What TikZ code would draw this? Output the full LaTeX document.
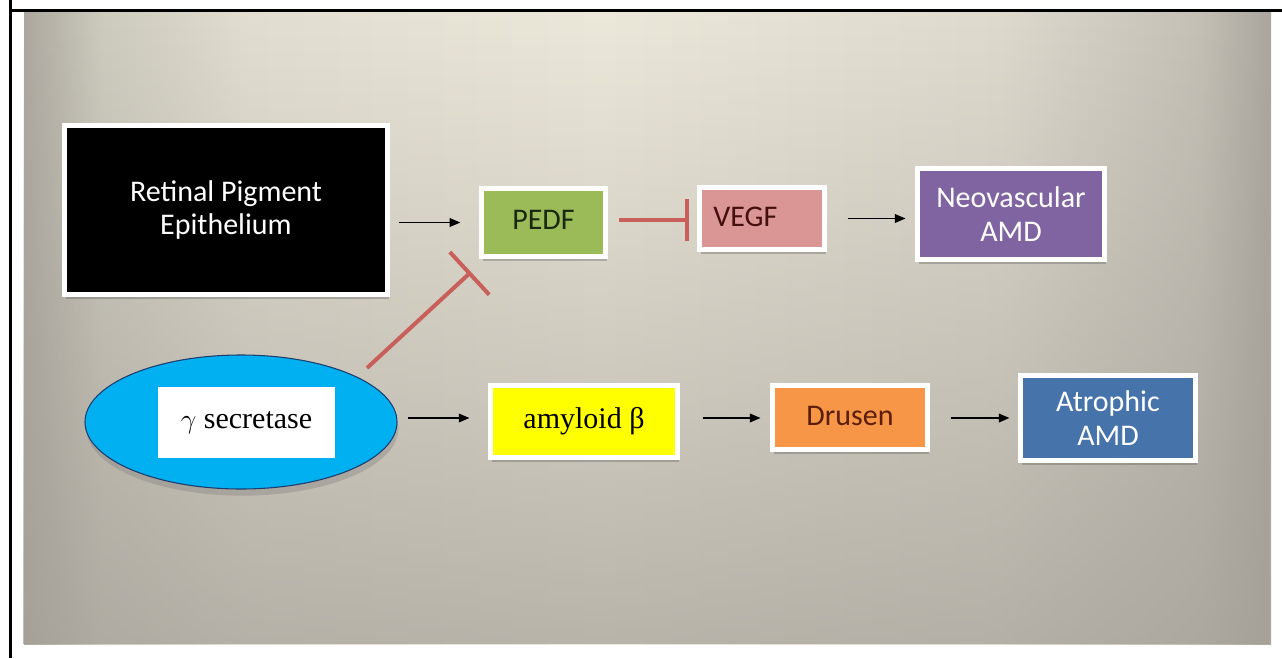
\documentclass[tikz,border=0pt]{standalone}
\usepackage{fontspec}
\setmainfont{Liberation Serif}
\newfontfamily\calibri{Carlito}
\usetikzlibrary{arrows.meta,shapes.geometric,shadows,fadings}

% slide background tones, left to right
\definecolor{bg0}{RGB}{172,168,159}
\definecolor{bg1}{RGB}{205,202,190}
\definecolor{bg2}{RGB}{226,222,209}
\definecolor{bg3}{RGB}{236,232,218}
\definecolor{bg4}{RGB}{222,218,206}
\definecolor{bg5}{RGB}{196,192,182}
\definecolor{bg6}{RGB}{170,166,157}
\definecolor{bgDark}{RGB}{163,158,150}
% box fills and text colours
\definecolor{pedfG}{RGB}{155,187,89}
\definecolor{pedfT}{RGB}{25,40,15}
\definecolor{vegfP}{RGB}{217,150,148}
\definecolor{vegfT}{RGB}{70,15,15}
\definecolor{neoP}{RGB}{128,100,162}
\definecolor{amyY}{RGB}{255,255,0}
\definecolor{druO}{RGB}{247,150,70}
\definecolor{druT}{RGB}{90,30,10}
\definecolor{atrB}{RGB}{70,115,170}
\definecolor{ellC}{RGB}{0,176,240}
\definecolor{ellL}{RGB}{30,60,110}
\definecolor{inhR}{RGB}{200,95,90}

\tikzfading[name=slidefade, top color=transparent!100,
  middle color=transparent!75, bottom color=transparent!0]

\tikzset{
  box/.style={rectangle, draw=white, line width=3.75pt, inner sep=0pt,
    align=center, font=\calibri\fontsize{22.5}{25}\selectfont,
    drop shadow={shadow xshift=1.2pt, shadow yshift=-3.2pt,
      opacity=0.3, fill=black!70}},
  serifbox/.style={box, font=\fontsize{22.5}{26}\selectfont},
  arr/.style={draw=black, line width=1.1pt,
    -{Triangle[length=8pt,width=6.5pt]}},
  inh/.style={draw=inhR, line width=3pt},
  bgband/.style={draw=none},
}

\begin{document}
\begin{tikzpicture}[x=0.75pt, y=-0.75pt]
\useasboundingbox (0,0) rectangle (1282,658);

% slide background: horizontal tone bands
\shade[bgband, left color=bg0, right color=bg1] (24,11) rectangle (100.5,644);
\shade[bgband, left color=bg1, right color=bg2] (100,11) rectangle (250.5,644);
\shade[bgband, left color=bg2, right color=bg3] (250,11) rectangle (600.5,644);
\shade[bgband, left color=bg3, right color=bg4] (600,11) rectangle (1000.5,644);
\shade[bgband, left color=bg4, right color=bg5] (1000,11) rectangle (1200.5,644);
\shade[bgband, left color=bg5, right color=bg6] (1200,11) rectangle (1271,644);
% darkening towards the bottom
\fill[bgDark, fill opacity=0.7, path fading=slidefade] (24,11) rectangle (1271,644);

% frame lines
\draw[line width=2.25pt] (10,0) -- (10,658);
\draw[line width=2.25pt] (10,10) -- (1282,10);

% upper row
\node[box, fill=black, text=white, minimum width=242.25pt, minimum height=126.75pt]
  (rpe) at (226,210) {Retinal Pigment\\Epithelium};
\node[box, fill=pedfG, text=pedfT, minimum width=93pt, minimum height=51pt]
  (pedf) at (543.5,222.5) {\raisebox{4pt}{PEDF}};
\node[box, fill=vegfP, text=vegfT, minimum width=93.75pt, minimum height=46.5pt,
  text width=73pt, align=left, inner xsep=10pt]
  (vegf) at (762,218.5) {\raisebox{2pt}{VEGF}};
\node[box, fill=neoP, text=white, minimum width=140.25pt, minimum height=68.25pt]
  (neo) at (1011,214) {Neovascular\\AMD};

% lower row
\node[ellipse, fill=ellC, draw=ellL, line width=0.8pt, inner sep=0pt,
  minimum width=234pt, minimum height=100.5pt,
  drop shadow={shadow xshift=1pt, shadow yshift=-5pt, opacity=0.3, fill=black!55}]
  (ell) at (241,422) {};
\node[fill=white, inner sep=0pt, minimum width=132.75pt, minimum height=53.25pt,
  font=\fontsize{22.5}{26}\selectfont]
  (sec) at (246.5,422.5) {$\gamma$ secretase};
\node[serifbox, fill=amyY, text=black, minimum width=140.25pt, minimum height=54pt]
  (amy) at (584,421.5) {\raisebox{5pt}{amyloid β}};
\node[box, fill=druO, text=druT, minimum width=116.25pt, minimum height=48pt]
  (dru) at (850,417.5) {\raisebox{2pt}{Drusen}};
\node[box, fill=atrB, text=white, minimum width=131.25pt, minimum height=63.75pt]
  (atr) at (1108,418) {Atrophic\\AMD};

% activating arrows
\draw[arr, shorten <=7pt, shorten >=14pt] (rpe.east |- pedf.west) -- (pedf.west);
\draw[arr, shorten <=15.4pt, shorten >=7.1pt] (vegf.east) -- (vegf.east -| neo.west);
\draw[arr, shorten <=8.2pt, shorten >=13.9pt] (ell.east |- 0,418) -- (amy.west |- 0,418);
\draw[arr, shorten <=16.9pt, shorten >=7.1pt] (amy.east |- 0,418) -- (dru.west |- 0,418);
\draw[arr, shorten <=15.4pt, shorten >=6.4pt] (dru.east |- 0,418) -- (atr.west |- 0,418);

% inhibitory connectors
\draw[inh, -{Bar[width=31.5pt]}, shorten <=8.6pt, shorten >=6pt]
  (pedf.east |- 0,220) -- (vegf.west |- 0,220);
\coordinate (inhS) at (367,368);
\coordinate (inhE) at (471,272);
\draw[inh, -{Bar[width=43.5pt]}] (inhS) -- (inhE);
\end{tikzpicture}
\end{document}
